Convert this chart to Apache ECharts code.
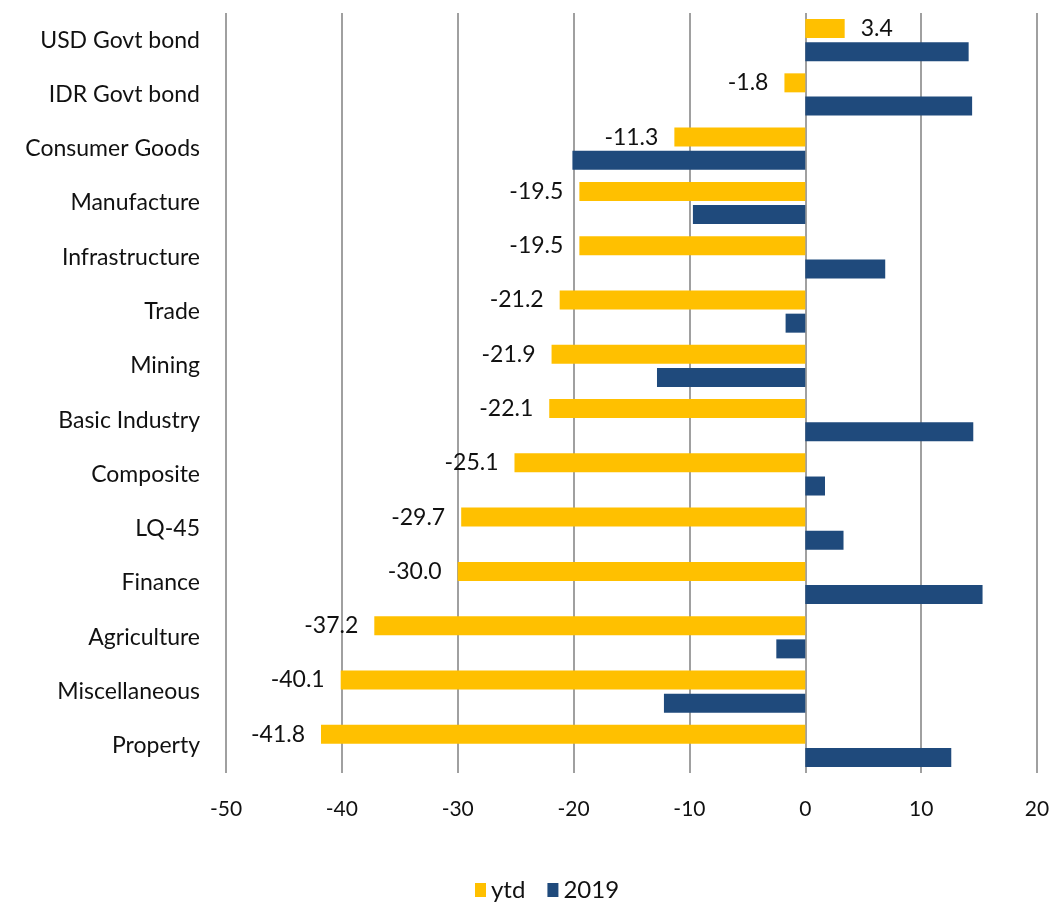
<!DOCTYPE html>
<html>
<head>
<meta charset="utf-8">
<script src="https://cdn.jsdelivr.net/npm/echarts@6/dist/echarts.min.js"></script>
<style>
  html, body { margin: 0; padding: 0; background: #fff; }
  #chart { width: 1053px; height: 904px; }
</style>
</head>
<body>
<div id="chart"></div>
<script>
// Sector and bond returns, top to bottom
const categories = [
  'USD Govt bond', 'IDR Govt bond', 'Consumer Goods', 'Manufacture',
  'Infrastructure', 'Trade', 'Mining', 'Basic Industry', 'Composite',
  'LQ-45', 'Finance', 'Agriculture', 'Miscellaneous', 'Property'
];
const ytdValues = [3.4, -1.8, -11.3, -19.5, -19.5, -21.2, -21.9, -22.1, -25.1, -29.7, -30.0, -37.2, -40.1, -41.8];
const y2019Values = [14.1, 14.4, -20.1, -9.7, 6.9, -1.7, -12.8, 14.5, 1.7, 3.3, 15.3, -2.5, -12.2, 12.6];
const seriesNames = ['ytd', '2019'];
const xTicks = { min: -50, max: 20, interval: 10 };

const FONT = 'Lato, "Open Sans", sans-serif';
const TEXT = '#111';

const chart = echarts.init(document.getElementById('chart'));

const ytdData = ytdValues.map(v => ({
  value: v,
  label: { position: v < 0 ? 'left' : 'right' }
}));

chart.setOption({
  animation: false,
  grid: { left: 226, right: 16, top: 13, bottom: 131, containLabel: false },
  legend: {
    data: seriesNames,
    bottom: -3,
    left: 470,
    itemWidth: 11,
    itemHeight: 14,
    itemGap: 22,
    icon: 'rect',
    textStyle: { fontFamily: FONT, fontSize: 24, color: TEXT }
  },
  xAxis: {
    type: 'value',
    min: xTicks.min,
    max: xTicks.max,
    interval: xTicks.interval,
    axisLine: { show: false },
    axisTick: { show: false },
    axisLabel: { fontFamily: FONT, fontSize: 21, color: TEXT, margin: 26 },
    splitLine: { show: true, lineStyle: { color: '#a0a0a0', width: 2 } }
  },
  yAxis: {
    type: 'category',
    data: categories,
    inverse: true,
    axisLine: { show: false },
    axisTick: { show: false },
    axisLabel: { fontFamily: FONT, fontSize: 23, color: TEXT, margin: 26 }
  },
  series: [
    {
      name: seriesNames[0],
      type: 'bar',
      data: ytdData,
      barWidth: 19,
      barGap: '22%',
      itemStyle: { color: '#FFC000' },
      label: {
        show: true,
        distance: 16,
        fontFamily: FONT,
        fontSize: 23,
        color: TEXT,
        formatter: p => p.value.toFixed(1)
      }
    },
    {
      name: seriesNames[1],
      type: 'bar',
      data: y2019Values,
      barWidth: 19,
      barGap: '22%',
      itemStyle: { color: '#1F4A7C' }
    }
  ]
});
</script>
</body>
</html>
